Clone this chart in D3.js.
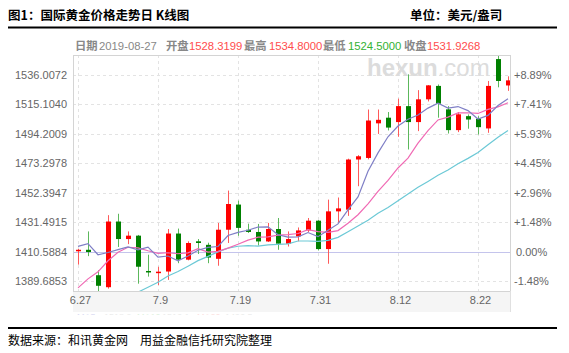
<!DOCTYPE html>
<html>
<head>
<meta charset="utf-8">
<script src="https://cdn.jsdelivr.net/npm/d3@7"></script>
<style>
body { margin: 0; background: #fff; }
svg { display: block; font-family: "Liberation Sans", Arial, "Noto Sans CJK SC", sans-serif; }
</style>
</head>
<body>
<svg id="chart"></svg>
<script>
// Trading days shown
const dates = ["6.27","6.28","7.1","7.2","7.3","7.4","7.5","7.8","7.9","7.10","7.11","7.12",
    "7.15","7.16","7.17","7.18","7.19","7.22","7.23","7.24","7.25","7.26","7.29","7.30","7.31",
    "8.1","8.2","8.5","8.6","8.7","8.8","8.9","8.12","8.13","8.14","8.15","8.16","8.19","8.20",
    "8.21","8.22","8.23","8.26","8.27"];

// Daily OHLC (USD/oz)
const opens = [1411.0,1412.0,1394.0,1385.5,1432.0,1419.6,1422.0,1397.0,1395.5,1396.6,1423.5,1405.0,
    1418.0,1415.5,1405.6,1426.2,1444.0,1426.2,1424.6,1417.9,1426.7,1416.3,1421.5,1425.7,1432.6,
    1412.5,1439.2,1440.4,1475.9,1477.0,1501.5,1505.5,1502.4,1513.7,1502.4,1518.5,1528.0,1511.4,
    1496.7,1506.6,1504.8,1497.9,1547.0,1528.3199];
const highs = [1412.6,1425.0,1397.5,1436.5,1437.5,1425.0,1422.5,1408.5,1400.0,1426.7,1427.0,1418.0,
    1419.6,1417.0,1431.0,1453.9,1446.8,1430.5,1430.3,1431.0,1434.5,1425.0,1427.8,1434.5,1433.0,
    1447.5,1449.0,1476.5,1479.0,1511.3,1511.3,1509.5,1519.0,1536.2,1525.0,1528.6,1529.0,1513.7,
    1509.5,1507.8,1506.6,1531.5,1550.0,1534.8];
const lows = [1401.5,1407.5,1382.5,1384.5,1414.0,1416.0,1388.0,1393.0,1387.0,1390.7,1402.5,1404.5,
    1409.0,1402.5,1400.7,1416.8,1421.9,1423.9,1415.0,1417.5,1412.0,1414.3,1418.0,1424.5,1411.5,
    1402.1,1431.2,1436.0,1457.0,1476.0,1494.0,1496.5,1492.0,1483.0,1496.0,1517.0,1505.5,1494.3,
    1495.3,1497.7,1493.6,1494.8,1527.0,1524.5];
const closes = [1412.0,1410.4,1386.5,1432.0,1419.6,1422.0,1400.0,1396.0,1396.5,1423.5,1405.0,1416.8,
    1416.8,1406.5,1426.2,1444.4,1427.5,1424.6,1417.9,1426.7,1416.3,1419.6,1425.7,1432.6,1412.5,
    1439.2,1441.3,1475.9,1478.2,1503.5,1504.0,1498.5,1513.7,1502.4,1518.5,1528.4,1515.4,1496.7,
    1507.9,1504.2,1498.8,1528.0,1531.5,1531.9268];

// Moving average lines as seen in the chart
const ma5 = [1414.4,1416.3,1408.5,1410.1,1412.1,1414.1,1412.0,1413.9,1406.8,1407.6,1404.2,1407.6,
    1411.7,1413.7,1414.3,1422.1,1424.3,1425.8,1428.1,1428.2,1422.6,1421.0,1421.2,1424.2,1421.3,
    1425.9,1430.3,1440.3,1449.4,1467.6,1480.6,1492.0,1499.6,1504.4,1507.4,1512.3,1515.7,1512.3,
    1513.4,1510.5,1504.6,1507.1,1514.1,1518.9];
const ma10 = [1385.0,1391.4,1396.4,1404.2,1410.2,1413.8,1413.4,1411.3,1409.5,1409.9,1409.2,1409.8,
    1412.8,1410.3,1410.9,1413.2,1415.9,1418.8,1420.9,1421.2,1422.4,1422.7,1423.5,1426.2,1424.8,
    1424.3,1425.6,1430.8,1436.8,1444.5,1453.3,1461.1,1469.9,1476.9,1487.5,1496.4,1503.9,1505.9,
    1508.9,1509.0,1508.5,1511.4,1513.2,1516.1];
const ma20 = [null,null,null,null,1374.8,1379.1,1382.0,1385.5,1389.0,1393.4,1396.6,1400.4,
    1404.3,1407.3,1410.5,1413.2,1414.5,1414.9,1414.6,1415.5,1415.8,1416.2,1418.2,1418.2,1417.9,
    1418.7,1420.8,1424.8,1428.9,1432.9,1437.8,1441.9,1446.7,1451.5,1456.2,1460.4,1464.7,1468.4,
    1472.9,1476.7,1480.9,1486.3,1491.6,1496.5];

// Axis ticks
const priceTicks = [1389.6853,1410.5884,1431.4915,1452.3947,1473.2978,1494.2009,1515.1040,1536.0072];
const priceLabels = ["1389.6853","1410.5884","1431.4915","1452.3947","1473.2978","1494.2009","1515.1040","1536.0072"];
const pctLabels = ["-1.48%","0.00%","+1.48%","+2.96%","+4.45%","+5.93%","+7.41%","+8.89%"];
const basePrice = 1410.5884;
const xTickDates = ["6.27","7.9","7.19","7.31","8.12","8.22"];

const W = 569, H = 353;
const plot = { left: 73, top: 55, right: 511, bottom: 291 };
const cjk = "'Noto Sans CJK SC', sans-serif";

const svg = d3.select("#chart").attr("width", W).attr("height", H);

const x = d3.scalePoint().domain(dates).range([78, 508]);
const y = d3.scaleLinear().domain([1389.6853, 1536.0072]).range([281.3, 74.6]);

const defs = svg.append("defs");
defs.append("clipPath").attr("id", "plotClip").append("rect")
    .attr("x", plot.left).attr("y", plot.top)
    .attr("width", plot.right - plot.left).attr("height", plot.bottom - plot.top);
defs.append("clipPath").attr("id", "leftClip").append("rect")
    .attr("x", 0).attr("y", 0).attr("width", 66.5).attr("height", H);
defs.append("clipPath").attr("id", "legClip").append("rect")
    .attr("x", 0).attr("y", 312).attr("width", W).attr("height", 2.5);

// Title row
svg.append("text").attr("x", 8).attr("y", 20)
    .attr("font-family", cjk).attr("font-size", 12.5).attr("font-weight", "bold")
    .text("图1：国际黄金价格走势日 K线图");
svg.append("text").attr("x", 410).attr("y", 20)
    .attr("font-family", cjk).attr("font-size", 12.5).attr("font-weight", "bold")
    .text("单位：美元/盎司");
svg.append("line").attr("x1", 8).attr("x2", 557).attr("y1", 27.5).attr("y2", 27.5)
    .attr("stroke", "#000").attr("stroke-width", 2);

// Info line for the last day
const last = dates.length - 1;
const info = [
    { x: 75, t: "日期", c: "#888", cjk: true },
    { x: 99, t: "2019-08-27", c: "#888" },
    { x: 166, t: "开盘", c: "#888", cjk: true },
    { x: 189, t: opens[last].toFixed(4), c: "#ff4d4d" },
    { x: 244, t: "最高", c: "#888", cjk: true },
    { x: 269, t: highs[last].toFixed(4), c: "#ff4d4d" },
    { x: 323, t: "最低", c: "#888", cjk: true },
    { x: 348, t: lows[last].toFixed(4), c: "#33b233" },
    { x: 404, t: "收盘", c: "#888", cjk: true },
    { x: 427, t: closes[last].toFixed(4), c: "#ff4d4d" }
];
svg.append("g").selectAll("text").data(info).enter().append("text")
    .attr("x", d => d.x).attr("y", 50)
    .attr("font-size", 11.3)
    .attr("font-family", d => d.cjk ? cjk : null)
    .attr("font-weight", d => d.cjk ? "bold" : null)
    .attr("fill", d => d.c)
    .text(d => d.t);

// x label band
svg.append("rect").attr("x", plot.left).attr("y", plot.bottom)
    .attr("width", plot.right - plot.left).attr("height", 21).attr("fill", "#f5f5f5");

// Grid
const grid = svg.append("g");
grid.selectAll(".hg").data(priceTicks.filter(v => v !== basePrice)).enter().append("line")
    .attr("x1", plot.left).attr("x2", plot.right)
    .attr("y1", d => Math.round(y(d)) + 0.5).attr("y2", d => Math.round(y(d)) + 0.5)
    .attr("stroke", "#e3e3e3").attr("stroke-dasharray", "3,3");
grid.selectAll(".vg").data(xTickDates).enter().append("line")
    .attr("x1", d => Math.round(x(d)) + 0.5).attr("x2", d => Math.round(x(d)) + 0.5)
    .attr("y1", plot.top).attr("y2", plot.bottom)
    .attr("stroke", "#e3e3e3").attr("stroke-dasharray", "3,3");
grid.append("line")
    .attr("x1", plot.left).attr("x2", plot.right)
    .attr("y1", Math.round(y(basePrice)) + 0.5).attr("y2", Math.round(y(basePrice)) + 0.5)
    .attr("stroke", "#c4c4ec");

// Watermark
const wm = svg.append("text").attr("x", 367).attr("y", 76)
    .attr("font-size", 24).attr("fill", "#dcdcdc");
wm.append("tspan").attr("font-weight", "bold").text("hexun");
wm.append("tspan").text(".com");

const plotG = svg.append("g").attr("clip-path", "url(#plotClip)");

// Candles
const candles = dates.map((d, i) => ({
    date: d, open: opens[i], high: highs[i], low: lows[i], close: closes[i],
    up: closes[i] >= opens[i]
}));
const cg = plotG.selectAll(".candle").data(candles).enter().append("g");
cg.append("line")
    .attr("x1", d => Math.round(x(d.date)) + 0.5).attr("x2", d => Math.round(x(d.date)) + 0.5)
    .attr("y1", d => y(d.high)).attr("y2", d => y(d.low))
    .attr("stroke", d => d.up ? "#ff5a5a" : "#5cb85c").attr("stroke-width", 1);
cg.append("rect")
    .attr("x", d => Math.round(x(d.date)) - 2)
    .attr("width", 5)
    .attr("y", d => y(Math.max(d.open, d.close)))
    .attr("height", d => Math.max(1.5, Math.abs(y(d.open) - y(d.close))))
    .attr("fill", d => d.up ? "#ff0000" : "#008000");

// Moving averages
const maSeries = [
    { values: ma20, color: "#6cc9d6" },
    { values: ma10, color: "#f06ab4" },
    { values: ma5, color: "#7f7fc6" }
];
const line = d3.line()
    .defined(d => d.v != null)
    .x(d => x(d.date)).y(d => y(d.v));
maSeries.forEach(s => {
    plotG.append("path")
        .datum(dates.map((d, i) => ({ date: d, v: s.values[i] })))
        .attr("d", line)
        .attr("fill", "none").attr("stroke", s.color).attr("stroke-width", 1.2);
});

// Frame
svg.append("rect").attr("x", plot.left + 0.5).attr("y", plot.top + 0.5)
    .attr("width", plot.right - plot.left - 1).attr("height", plot.bottom - plot.top)
    .attr("fill", "none").attr("stroke", "#d4d4d4");
svg.append("line").attr("x1", plot.right - 0.5).attr("x2", plot.right - 0.5)
    .attr("y1", plot.bottom).attr("y2", plot.bottom + 21).attr("stroke", "#e0e0e0");

// Left price axis
const leftAxis = d3.axisRight(y).tickValues(priceTicks)
    .tickFormat((d, i) => priceLabels[i]).tickSize(0).tickPadding(0);
svg.append("g").attr("transform", "translate(15,0)").attr("clip-path", "url(#leftClip)")
    .call(leftAxis)
    .call(g => g.select(".domain").remove())
    .call(g => g.selectAll("text").attr("font-size", 11).attr("fill", "#666")
        .attr("font-family", "'Liberation Sans', Arial, sans-serif"));

// Right percent axis
const rightAxis = d3.axisRight(y).tickValues(priceTicks)
    .tickFormat((d, i) => pctLabels[i]).tickSize(0).tickPadding(0);
svg.append("g").attr("transform", "translate(514,0)")
    .call(rightAxis)
    .call(g => g.select(".domain").remove())
    .call(g => g.selectAll("text").attr("font-size", 11).attr("fill", "#666")
        .attr("x", (d, i) => pctLabels[i].startsWith("0") ? 2 : 0)
        .attr("font-family", "'Liberation Sans', Arial, sans-serif"));

// Date axis
const xAxis = d3.axisBottom(x).tickValues(xTickDates).tickSize(0).tickPadding(5);
svg.append("g").attr("transform", `translate(2,${plot.bottom})`)
    .call(xAxis)
    .call(g => g.select(".domain").remove())
    .call(g => g.selectAll("text").attr("font-size", 11).attr("fill", "#666")
        .attr("font-family", "'Liberation Sans', Arial, sans-serif"));

// Cut-off legend row just under the band (only its top shows)
const legend = [
    { x: 77, t: "MA5", c: "#b8b8e6" }, { x: 104, t: "1518.9", c: "#d8d8d8" },
    { x: 137, t: "MA10", c: "#bfe3bf" }, { x: 162, t: "1516.1", c: "#d8d8d8" },
    { x: 197, t: "MA20", c: "#f7c0c0" }, { x: 225, t: "1496.5", c: "#d8d8d8" }
];
svg.append("g").attr("clip-path", "url(#legClip)")
    .selectAll("text").data(legend).enter().append("text")
    .attr("x", d => d.x).attr("y", 320).attr("font-size", 9)
    .attr("fill", d => d.c).text(d => d.t);

// Footer
svg.append("line").attr("x1", 8).attr("x2", 557).attr("y1", 328).attr("y2", 328)
    .attr("stroke", "#000").attr("stroke-width", 2);
svg.append("text").attr("x", 8).attr("y", 345)
    .attr("font-family", cjk).attr("font-size", 12)
    .text("数据来源：和讯黄金网\u3000用益金融信托研究院整理");
</script>
</body>
</html>
